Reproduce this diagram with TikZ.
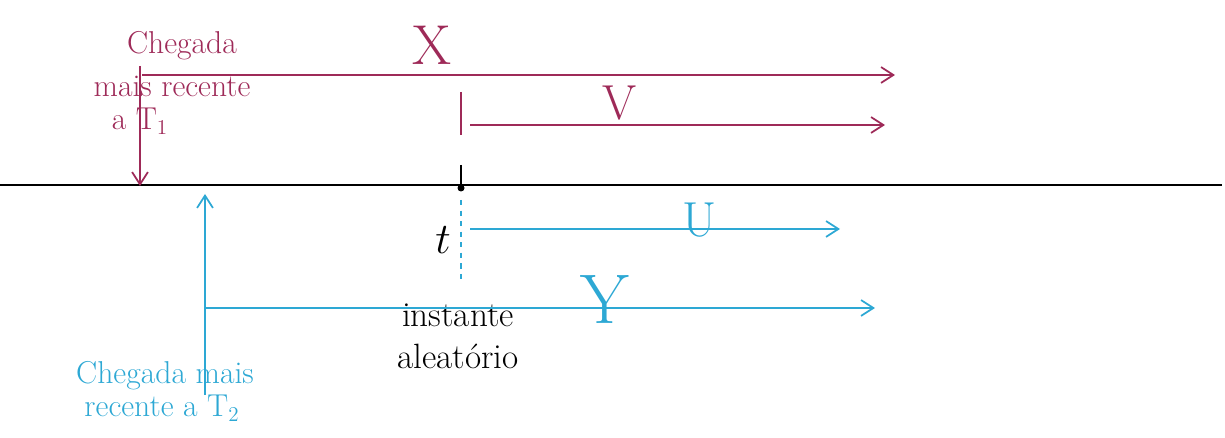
\documentclass[tikz,border=0pt]{standalone}
\usetikzlibrary{arrows.meta}
\definecolor{mag}{RGB}{158,42,88}
\definecolor{blu}{RGB}{45,168,212}
\tikzset{
  magline/.style={draw=mag, line width=0.6pt},
  bluline/.style={draw=blu, line width=0.6pt},
  tip/.style={-{Straight Barb[length=7pt,width=9pt,line width=1pt]}},
  lbl/.style={inner sep=0pt, font=\fontsize{18}{20}\selectfont},
  big/.style={inner sep=0pt, font=\fontsize{32}{34}\selectfont},
}
\begin{document}
\begin{tikzpicture}[x=0.02cm,y=-0.02cm]
\useasboundingbox (0,0) rectangle (1225,438);
% timeline
\coordinate (tl0) at (0,185);
\coordinate (tl1) at (1222,185);
\draw[line width=1.1pt, black] (tl0) -- (tl1);
% magenta arrival
\coordinate (m0) at (140,66);
\coordinate (m1) at (140,186);
\draw[magline, line width=1pt, tip] (m0) -- (m1);
\coordinate (x0) at (142,75);
\coordinate (x1) at (895,75);
\draw[magline, tip] (x0) -- (x1);
\node[big, text=mag] (X) at (432,45) {X};
\node[lbl, text=mag] (c1) at (182,46) {Chegada};
\node[lbl, text=mag] (c2) at (172,86) {mais recente};
\node[lbl, text=mag] (c3) at (140,121) {a T$_1$};
% V
\coordinate (vt0) at (461,92);
\coordinate (vt1) at (461,135);
\draw[magline, line width=1pt] (vt0) -- (vt1);
\coordinate (v0) at (470,125);
\coordinate (v1) at (885,125);
\draw[magline, tip] (v0) -- (v1);
\node[big, text=mag, font=\fontsize{28}{30}\selectfont] (V) at (620,103) {V};
% random instant
\coordinate (bt0) at (461,165);
\coordinate (bt1) at (461,188);
\draw[line width=1pt] (bt0) -- (bt1);
\fill (bt1) circle (3.5);
\coordinate (d0) at (461,200);
\coordinate (d1) at (461,282);
\draw[bluline, dashed] (d0) -- (d1);
\node[big, font=\fontsize{26}{28}\selectfont] (t) at (443,240) {$t$};
\node[lbl, align=center, font=\fontsize{20}{24}\selectfont] (inst) at (458,336) {instante\\aleatório};
% U
\coordinate (u0) at (470,229);
\coordinate (u1) at (840,229);
\draw[bluline, tip] (u0) -- (u1);
\node[big, text=blu, font=\fontsize{28}{30}\selectfont] (U) at (700,220) {U};
% blue arrival
\coordinate (b0) at (205,395);
\coordinate (b1) at (205,194);
\draw[bluline, line width=1pt, tip] (b0) -- (b1);
\coordinate (y0) at (205,308);
\coordinate (y1) at (875,308);
\draw[bluline, tip] (y0) -- (y1);
\node[big, text=blu, font=\fontsize{40}{42}\selectfont] (Y) at (605,300) {Y};
\node[lbl, text=blu] (e1) at (165,376) {Chegada mais};
\node[lbl, text=blu] (e2) at (162,408) {recente a T$_2$};
\end{tikzpicture}
\end{document}
